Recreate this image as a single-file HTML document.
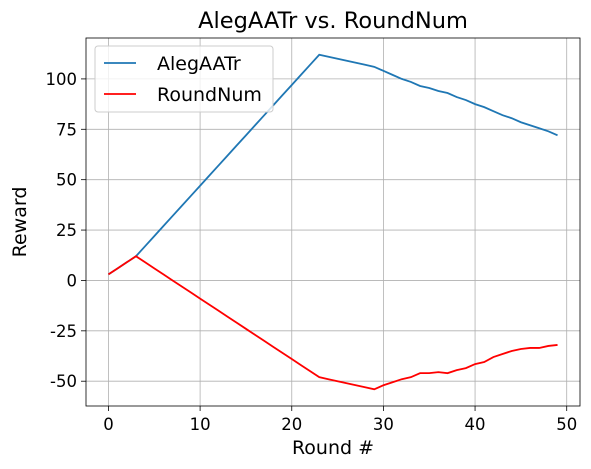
<!DOCTYPE html>
<html><head><meta charset="utf-8"><style>body{margin:0;background:#fff}svg{display:block;font-family:"DejaVu Sans","Liberation Sans",sans-serif}</style></head>
<body>
<svg id="c" width="591" height="469"></svg>
<script>
const xTicks=[0,10,20,30,40,50];
const yTicks=[-50,-25,0,25,50,75,100];
const rounds=[];for(let i=0;i<50;i++)rounds.push(i);
const alegaatr=[3,6,9,12,17,22,27,32,37,42,47,52,57,62,67,72,77,82,87,92,97,102,107,112,111,110,109,108,107,106,104,102,100,98.5,96.5,95.5,94,93,91,89.5,87.5,86,84,82,80.5,78.5,77,75.5,74,72];
const roundnum=[3,6,9,12,9,6,3,0,-3,-6,-9,-12,-15,-18,-21,-24,-27,-30,-33,-36,-39,-42,-45,-48,-49,-50,-51,-52,-53,-54,-52,-50.5,-49,-48,-46,-46,-45.5,-46,-44.5,-43.5,-41.5,-40.5,-38,-36.5,-35,-34,-33.5,-33.5,-32.5,-32];
const L=86,R=580,T=38,B=406;
const x0=-2.45,x1=51.45,y0=-62.3,y1=120.3;
const X=v=>L+(v-x0)/(x1-x0)*(R-L);
const Y=v=>B-(v-y0)/(y1-y0)*(B-T);
const svg=document.getElementById('c');const NS='http://www.w3.org/2000/svg';
function el(t,a,p){const e=document.createElementNS(NS,t);for(const k in a)e.setAttribute(k,a[k]);(p||svg).appendChild(e);return e;}
xTicks.forEach(t=>{const g=el('line',{x1:X(t),x2:X(t),y1:T,y2:B,stroke:'#b0b0b0','stroke-width':0.8});

el('line',{x1:X(t),x2:X(t),y1:B,y2:B+5,stroke:'#000','stroke-width':0.8});
const tx=el('text',{x:X(t),y:B+24,'text-anchor':'middle','font-size':16.5});tx.textContent=t;
});
yTicks.forEach(t=>{const g=el('line',{x1:L,x2:R,y1:Y(t),y2:Y(t),stroke:'#b0b0b0','stroke-width':0.8});

el('line',{x1:L-5,x2:L,y1:Y(t),y2:Y(t),stroke:'#000','stroke-width':0.8});
const tx=el('text',{x:L-9,y:Y(t)+6,'text-anchor':'end','font-size':16.5});tx.textContent=t;
});
function line(d,c,n){const p=el('polyline',{points:d.map((v,i)=>X(rounds[i])+','+Y(v)).join(' '),fill:'none',stroke:c,'stroke-width':1.8});
}
line(alegaatr,'#1f77b4','alegaatr-line');line(roundnum,'#ff0000','roundnum-line');
const fr=el('rect',{x:L,y:T,width:R-L,height:B-T,fill:'none',stroke:'#000','stroke-width':0.8});

const lg=el('g',{});
el('rect',{x:95,y:46,width:178,height:66,rx:3,fill:'#fff','fill-opacity':0.8,stroke:'#ccc'},lg);
[['AlegAATr','#1f77b4',63],['RoundNum','#ff0000',94]].forEach(([n,c,y])=>{
el('line',{x1:104,x2:136,y1:y,y2:y,stroke:c,'stroke-width':1.8},lg);
const t=el('text',{x:157,y:y+7,'font-size':19},lg);t.textContent=n;
});
const ti=el('text',{x:(L+R)/2,y:28,'text-anchor':'middle','font-size':22.5});ti.textContent='AlegAATr vs. RoundNum';

const xl=el('text',{x:(L+R)/2,y:454,'text-anchor':'middle','font-size':19});xl.textContent='Round #';

const yl=el('text',{x:26,y:(T+B)/2,'text-anchor':'middle','font-size':19,transform:'rotate(-90 26 '+(T+B)/2+')'});yl.textContent='Reward';

</script>
</body></html>
